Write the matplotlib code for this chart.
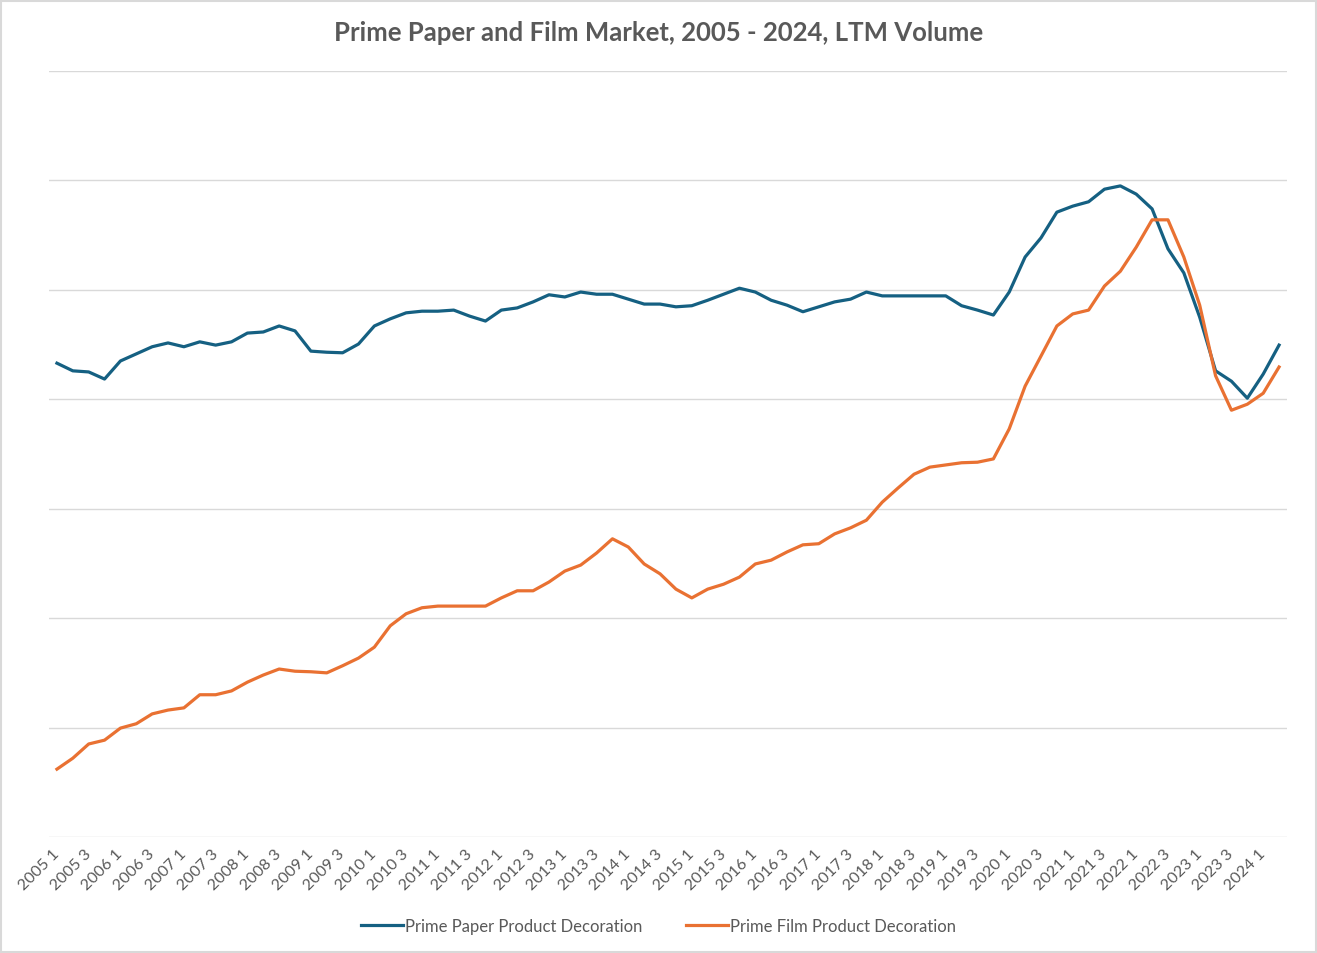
import matplotlib
matplotlib.use("Agg")
import matplotlib.pyplot as plt
from matplotlib.patches import Rectangle

plt.rcParams["font.family"] = ["Lato", "DejaVu Sans"]

# 季度 2005 Q1 - 2024 Q2
years = [y for y in range(2005, 2025) for _ in range(4)][:78]
quarters = [q for _ in range(2005, 2025) for q in (1, 2, 3, 4)][:78]

paper = [86.6, 85.2, 85.0, 83.7, 87.0, 88.3, 89.6, 90.3, 89.6, 90.5,
         89.9, 90.5, 92.1, 92.3, 93.4, 92.5, 88.8, 88.6, 88.5, 90.1,
         93.4, 94.7, 95.8, 96.1, 96.1, 96.3, 95.2, 94.3, 96.3, 96.7,
         97.8, 99.1, 98.7, 99.6, 99.2, 99.2, 98.3, 97.4, 97.4, 96.9,
         97.1, 98.1, 99.2, 100.3, 99.6, 98.1, 97.2, 96.0, 96.9, 97.8,
         98.3, 99.6, 98.9, 98.9, 98.9, 98.9, 98.9, 97.1, 96.3, 95.4,
         99.6, 106.0, 109.5, 114.2, 115.3, 116.1, 118.4, 119.0, 117.5, 114.8,
         107.5, 103.1, 95.0, 85.2, 83.3, 80.2, 84.6, 89.9]

film = [12.4, 14.4, 17.0, 17.7, 19.9, 20.7, 22.5, 23.2, 23.6, 26.0,
        26.0, 26.7, 28.3, 29.6, 30.7, 30.3, 30.2, 30.0, 31.3, 32.7,
        34.7, 38.6, 40.8, 41.9, 42.2, 42.2, 42.2, 42.2, 43.7, 45.0,
        45.0, 46.6, 48.6, 49.7, 51.9, 54.5, 53.0, 49.9, 48.1, 45.3,
        43.7, 45.3, 46.2, 47.5, 49.9, 50.6, 52.1, 53.4, 53.6, 55.4,
        56.5, 57.9, 61.2, 63.8, 66.3, 67.6, 68.0, 68.4, 68.5, 69.1,
        74.6, 82.4, 87.9, 93.4, 95.6, 96.3, 100.7, 103.4, 107.8, 112.8,
        112.8, 106.0, 97.2, 84.3, 78.0, 79.1, 81.1, 85.9]

labels = [f"{y} {q}" for y, q in zip(years, quarters)]
x = list(range(len(labels)))

grey = "#595959"
fig = plt.figure(figsize=(13.17, 9.54), dpi=100)
fig.patches.append(Rectangle((0.001, 0.001), 0.998, 0.997, transform=fig.transFigure,
                             fill=False, edgecolor="#D9D9D9", linewidth=1.5))
ax = fig.add_axes([49 / 1317, 1 - 838 / 954, 1238 / 1317, 766 / 954])

ax.plot(x, paper, color="#156082", linewidth=2.3, label="Prime Paper Product Decoration")
ax.plot(x, film, color="#E97132", linewidth=2.3, label="Prime Film Product Decoration")

ax.set_xlim(-0.5, len(x) - 0.5)
ax.set_ylim(0, 140)
ax.set_yticks(range(0, 141, 20))
ax.set_yticklabels([])
ax.tick_params(axis="y", length=0)
ax.grid(axis="y", color="#D9D9D9", linewidth=1)
ax.set_axisbelow(True)
for s in ax.spines.values():
    s.set_visible(False)

ax.set_xticks(x[::2])
ax.set_xticklabels(labels[::2], rotation=45, ha="right", va="center",
                   rotation_mode="anchor", fontsize=11.5, color=grey)
ax.tick_params(axis="x", length=0, pad=10)

fig.text(0.5, 1 - 33 / 954, "Prime Paper and Film Market, 2005 - 2024, LTM Volume",
         ha="center", va="center", fontsize=18.5, fontweight="bold", color=grey)

fig.legend(loc="center", bbox_to_anchor=(0.5, 1 - 927 / 954), ncol=2, frameon=False,
           fontsize=12, labelcolor=grey, handlelength=2.5, handletextpad=0.15,
           columnspacing=2.6)

fig.savefig("out.png", dpi=100)
